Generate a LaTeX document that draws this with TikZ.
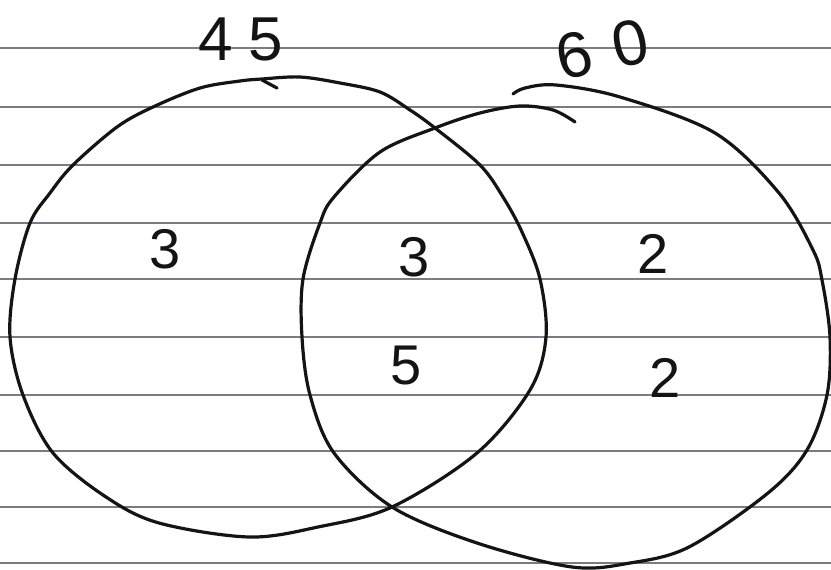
\documentclass[tikz,border=0pt]{standalone}
\usepackage{fontspec}
\setmainfont{Liberation Sans}
\begin{document}
\begin{tikzpicture}[x=1pt,y=-1pt,
  rule/.style={line width=1.6pt, draw={rgb,255:red,128;green,120;blue,132}},
  pen/.style={line width=3.2pt, draw=black!92, line cap=round, line join=round},
  digit/.style={font=\fontsize{56}{60}\selectfont, text=black!92, inner sep=0pt}]
\useasboundingbox (0,0) rectangle (831,570);
\fill[white] (0,0) rectangle (831,570);
% ruled paper lines
\foreach \yy in {48,107,165,223,279,337,395,451,507,563}
  \draw[rule] (0,\yy) -- (831,\yy);
% left set
\draw[pen] plot[smooth cycle, tension=0.55] coordinates {
  (262,79) (300,77) (340,83) (380,92) (410,110) (435,128) (480,165) (503,197)
  (522,232) (540,279) (546,337) (530,390) (477,453) (392,507) (318,527)
  (249,537) (159,523) (106,497) (53,453) (23,395) (10,337) (15,279) (30,223)
  (50,193) (73,165) (117,127) (153,107) (200,88) (240,81)};
\draw[pen] (262,80) -- (277,88);
% right set
\draw[pen] plot[smooth, tension=0.55] coordinates {
  (513,94) (525,88) (556,85) (620,97) (715,133) (779,193) (813,250) (822,280)
  (830,337) (827,395) (807,450) (768,493) (689,547) (630,563) (572,567)
  (477,543) (392,507) (334,453) (310,395) (302,337) (303,279) (320,223)
  (334,197) (380,152) (435,128) (480,113) (520,106) (553,110) (575,122)};
% labels
\node[digit, font=\fontsize{62}{66}\selectfont] (nA) at (241,39) {4\kern16pt 5};
\node[digit, font=\fontsize{64}{68}\selectfont, rotate=12] (nB) at (602,49) {6\kern22pt 0};
\node[digit] (onlyA) at (165,249) {3};
\node[digit] (bothTop) at (414,257) {3};
\node[digit] (bothBot) at (406,366) {5};
\node[digit] (onlyBTop) at (653,254) {2};
\node[digit] (onlyBBot) at (665,378) {2};
\end{tikzpicture}
\end{document}
